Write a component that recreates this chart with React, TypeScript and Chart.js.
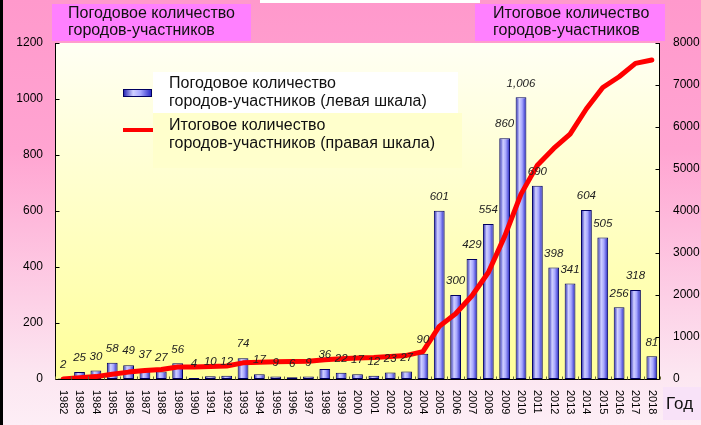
import React, { useEffect, useRef } from "react";
import { Chart, registerables } from "chart.js";

Chart.register(...registerables);

const years = [
  "1982", "1983", "1984", "1985", "1986", "1987", "1988", "1989", "1990", "1991",
  "1992", "1993", "1994", "1995", "1996", "1997", "1998", "1999", "2000", "2001",
  "2002", "2003", "2004", "2005", "2006", "2007", "2008", "2009", "2010", "2011",
  "2012", "2013", "2014", "2015", "2016", "2017", "2018",
];

const yearlyCities = [
  2, 25, 30, 58, 49, 37, 27, 56, 4, 10,
  12, 74, 17, 9, 6, 9, 36, 22, 17, 12,
  23, 27, 90, 601, 300, 429, 554, 860, 1006, 690,
  398, 341, 604, 505, 256, 318, 81,
];

const cumulativeCities = [
  2, 27, 57, 115, 164, 201, 228, 284, 288, 298,
  310, 384, 401, 410, 416, 425, 461, 483, 500, 512,
  535, 562, 652, 1253, 1553, 1982, 2536, 3396, 4402, 5092,
  5490, 5831, 6435, 6940, 7196, 7514, 7595,
];

const leftTicks = [0, 200, 400, 600, 800, 1000, 1200];
const rightTicks = [0, 1000, 2000, 3000, 4000, 5000, 6000, 7000, 8000];

const headerLeft = ["Погодовое количество", "городов-участников"];
const headerRight = ["Итоговое количество", "городов-участников"];
const legendBarText = ["Погодовое количество", "городов-участников (левая шкала)"];
const legendLineText = ["Итоговое количество", "городов-участников (правая шкала)"];
const xAxisTitle = "Год";

const FONT = '"Liberation Sans", Arial, sans-serif';

function barGradient(ctx: CanvasRenderingContext2D, x0: number, x1: number) {
  const g = ctx.createLinearGradient(x0, 0, x1, 0);
  g.addColorStop(0, "#1A1AB0");
  g.addColorStop(0.35, "#D0D0FF");
  g.addColorStop(0.6, "#A8A8FF");
  g.addColorStop(1, "#2020C0");
  return g;
}

const backgroundPlugin = {
  id: "bgPlugin",
  beforeDraw(chart: any) {
    const { ctx, chartArea: a, width, height } = chart;
    ctx.save();
    let g = ctx.createLinearGradient(0, 0, 0, height);
    g.addColorStop(0, "#FF99CC");
    g.addColorStop(0.35, "#FFA4D1");
    g.addColorStop(0.88, "#FCE6F1");
    g.addColorStop(1, "#FDEEF6");
    ctx.fillStyle = g;
    ctx.fillRect(0, 0, width, height);

    ctx.fillStyle = "#FFFFFF";
    ctx.fillRect(260, 0, 220, 3);
    ctx.fillStyle = "#000000";
    ctx.fillRect(0, 0, 3, height);

    g = ctx.createLinearGradient(0, a.top, 0, a.bottom);
    g.addColorStop(0, "#FFFFF4");
    g.addColorStop(1, "#FFFF99");
    ctx.fillStyle = g;
    ctx.fillRect(a.left, a.top, a.right - a.left, a.bottom - a.top);

    ctx.fillStyle = "#FF80FF";
    ctx.fillRect(52, 4, 199, 37);
    ctx.fillRect(475, 4, 190, 37);
    ctx.fillStyle = "#111111";
    ctx.font = `16px ${FONT}`;
    ctx.textAlign = "left";
    ctx.textBaseline = "middle";
    ctx.fillText(headerLeft[0], 68, 14);
    ctx.fillText(headerLeft[1], 68, 31);
    ctx.fillText(headerRight[0], 493, 14);
    ctx.fillText(headerRight[1], 493, 31);

    ctx.fillStyle = "#F8E2F8";
    ctx.fillRect(663, 387, 38, 33);
    ctx.fillStyle = "#111111";
    ctx.font = `17px ${FONT}`;
    ctx.fillText(xAxisTitle, 666, 404);
    ctx.restore();
  },
  beforeDatasetsDraw(chart: any) {
    const meta = chart.getDatasetMeta(1);
    meta.data.forEach((el: any) => {
      if (!Number.isFinite(el.x) || !Number.isFinite(el.width)) return;
      try {
        el.options.backgroundColor = barGradient(chart.ctx, el.x - el.width / 2, el.x + el.width / 2);
      } catch (e) {
        /* ignore */
      }
    });
  },
};

const labelsPlugin = {
  id: "labelsPlugin",
  afterDatasetsDraw(chart: any) {
    const { ctx } = chart;
    const meta = chart.getDatasetMeta(1);
    ctx.save();
    ctx.font = `italic 11.5px ${FONT}`;
    ctx.fillStyle = "#222222";
    ctx.textAlign = "center";
    ctx.textBaseline = "middle";
    meta.data.forEach((el: any, i: number) => {
      ctx.fillText(yearlyCities[i].toLocaleString("en-US"), el.x, el.y - 14);
    });
    ctx.restore();
  },
  afterDraw(chart: any) {
    const { ctx, chartArea: a, scales } = chart;
    ctx.save();
    ctx.strokeStyle = "#000000";
    ctx.lineWidth = 1;
    const L = Math.round(a.left) + 0.5;
    const R = Math.round(a.right) - 0.5;
    const B = Math.round(a.bottom) + 0.5;
    ctx.beginPath();
    ctx.moveTo(L, a.top);
    ctx.lineTo(L, B);
    ctx.lineTo(R, B);
    ctx.moveTo(R, a.top);
    ctx.lineTo(R, B);
    leftTicks.forEach((v) => {
      const y = Math.round(scales.y.getPixelForValue(v)) + 0.5;
      ctx.moveTo(L, y);
      ctx.lineTo(L + 4, y);
    });
    rightTicks.forEach((v) => {
      const y = Math.round(scales.y1.getPixelForValue(v)) + 0.5;
      ctx.moveTo(R - 4, y);
      ctx.lineTo(R, y);
    });
    ctx.stroke();

    ctx.strokeStyle = "#666633";
    ctx.beginPath();
    const n = years.length;
    for (let i = 0; i <= n; i++) {
      const x = Math.round(a.left + ((a.right - a.left) * i) / n) + 0.5;
      ctx.moveTo(x, B);
      ctx.lineTo(x, B - 3);
    }
    ctx.stroke();

    ctx.fillStyle = "#000000";
    ctx.font = `11px ${FONT}`;
    ctx.textAlign = "left";
    ctx.textBaseline = "middle";
    years.forEach((yr, i) => {
      const x = scales.x.getPixelForValue(i);
      ctx.save();
      ctx.translate(x, a.bottom + 11);
      ctx.rotate(Math.PI / 2);
      ctx.fillText(yr, 0, 0);
      ctx.restore();
    });

    ctx.fillStyle = "#FFFFFF";
    ctx.fillRect(153, 72, 305, 41);
    ctx.fillStyle = "#FFFFCC";
    ctx.fillRect(153, 113, 309, 55);
    ctx.fillStyle = barGradient(ctx, 123, 152);
    ctx.fillRect(123, 89, 29, 8);
    ctx.strokeStyle = "#000060";
    ctx.strokeRect(123.5, 89.5, 28, 7);
    ctx.strokeStyle = "#FF0000";
    ctx.lineWidth = 4;
    ctx.beginPath();
    ctx.moveTo(123, 130);
    ctx.lineTo(153, 130);
    ctx.stroke();
    ctx.fillStyle = "#111111";
    ctx.font = `16px ${FONT}`;
    ctx.fillText(legendBarText[0], 169, 84);
    ctx.fillText(legendBarText[1], 169, 102);
    ctx.fillText(legendLineText[0], 169, 126);
    ctx.fillText(legendLineText[1], 169, 144);
    ctx.restore();
  },
};

export default function App() {
  const ref = useRef<HTMLCanvasElement | null>(null);

  useEffect(() => {
    if (!ref.current) return;
    const chart = new Chart(ref.current, {
      type: "bar",
      data: {
        labels: years,
        datasets: [
          {
            type: "line",
            label: legendLineText.join(" "),
            data: cumulativeCities,
            yAxisID: "y1",
            borderColor: "#FF0000",
            borderWidth: 5,
            pointRadius: 0,
            tension: 0,
            borderJoinStyle: "round",
            borderCapStyle: "round",
            order: 0,
          } as any,
          {
            type: "bar",
            label: legendBarText.join(" "),
            data: yearlyCities,
            yAxisID: "y",
            backgroundColor: (c: any) => (c.dataIndex === undefined ? "#8080FF" : "#8888FF"),
            borderColor: "#000060",
            borderWidth: 1,
            borderSkipped: false,
            categoryPercentage: 1,
            barPercentage: 0.66,
            order: 1,
          } as any,
        ],
      },
      options: {
        responsive: false,
        animation: false,
        devicePixelRatio: 1,
        layout: { padding: { top: 43, left: 0, right: 0, bottom: 0 } },
        plugins: { legend: { display: false }, tooltip: { enabled: false } },
        scales: {
          x: {
            type: "category",
            offset: true,
            grid: { display: false, drawTicks: false },
            border: { display: false },
            ticks: { display: false },
            afterFit: (s: any) => {
              s.height = 46;
            },
          },
          y: {
            position: "left",
            min: 0,
            max: 1200,
            grid: { display: false, drawTicks: false },
            border: { display: false },
            ticks: {
              stepSize: 200,
              padding: 12,
              color: "#000000",
              font: { family: FONT, size: 12 },
              callback: (v: any) => String(v),
            },
            afterFit: (s: any) => {
              s.width = 55;
            },
          },
          y1: {
            position: "right",
            min: 0,
            max: 8000,
            grid: { display: false, drawTicks: false },
            border: { display: false },
            ticks: {
              stepSize: 1000,
              padding: 13,
              color: "#000000",
              font: { family: FONT, size: 12 },
              callback: (v: any) => String(v),
            },
            afterFit: (s: any) => {
              s.width = 41;
            },
          },
        },
      } as any,
      plugins: [backgroundPlugin, labelsPlugin],
    });
    return () => chart.destroy();
  }, []);

  return (
    <div style={{ position: "fixed", left: 0, top: 0, width: 701, height: 425 }}>
      <canvas ref={ref} width={701} height={425} style={{ display: "block" }} />
    </div>
  );
}
